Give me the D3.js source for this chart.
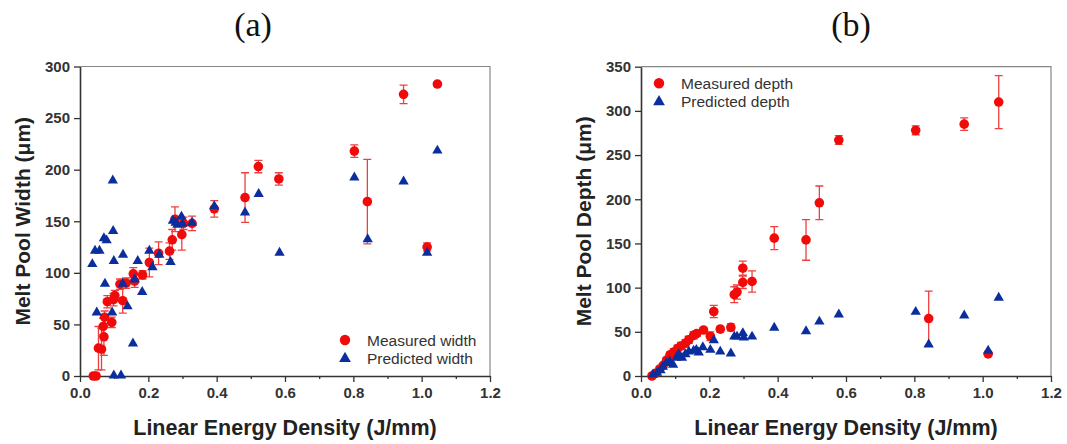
<!DOCTYPE html>
<html><head><meta charset="utf-8">
<script src="https://cdn.jsdelivr.net/npm/d3@7"></script>
<style>body{margin:0;background:#fff}</style>
</head><body>
<svg id="chart" width="1067" height="444"></svg>
<script>
// ---------- Data ----------
const xTicks = [0, 0.2, 0.4, 0.6, 0.8, 1.0, 1.2];
const xMinorTicks = [0.1, 0.3, 0.5, 0.7, 0.9, 1.1];
const widthYTicks = [0, 50, 100, 150, 200, 250, 300];
const depthYTicks = [0, 50, 100, 150, 200, 250, 300, 350];

// (a) measured width: energy density, value, error
const widthMeasX   = [0.039,0.047,0.054,0.063,0.070,0.068,0.072,0.093,0.080,0.098,0.102,0.125,0.117,0.135,0.156,0.160,0.183,0.203,0.230,0.262,0.270,0.278,0.298,0.303,0.328,0.393,0.483,0.522,0.582,0.803,0.841,0.947,1.046,1.016];
const widthMeasY   = [0,0,27,26,38,48,57,52,72,74,78,73,89,90,99,92,98,110,119,121,132,152,137,148,148,162,173,203,191,218,169,273,283,125];
const widthMeasErr = [0,0,21,20,18,8,6,5,6,6,5,12,5,5,6,6,4,14,11,8,10,12,15,6,7,8,24,6,6,6,41,9,2,4];
// (a) predicted width
const widthPredX = [0.036,0.044,0.057,0.049,0.070,0.078,0.073,0.096,0.097,0.099,0.094,0.099,0.120,0.126,0.125,0.139,0.155,0.160,0.169,0.182,0.203,0.212,0.232,0.265,0.272,0.280,0.285,0.297,0.300,0.328,0.393,0.483,0.523,0.584,0.803,0.842,0.947,1.046,1.016];
const widthPredY = [108,121,121,61,133,131,89,189,140,111,61,0,0,117,89,67,31,93,111,81,121,105,117,110,150,148,146,154,147,148,164,158,176,119,192,132,188,218,119];

// (b) measured depth
const depthMeasX   = [0.032,0.042,0.055,0.065,0.075,0.085,0.096,0.107,0.117,0.130,0.140,0.154,0.163,0.183,0.203,0.213,0.232,0.263,0.273,0.281,0.298,0.298,0.325,0.390,0.483,0.522,0.579,0.804,0.842,0.946,1.047,1.016];
const depthMeasY   = [0,3,8,12,18,24,27,31,34,37,41,46,48,52,45,73,53,55,92,95,122,106,107,156,154,196,267,278,65,285,310,25];
const depthMeasErr = [0,0,2,2,3,3,4,4,4,4,4,4,3,3,5,7,3,4,9,8,8,7,12,13,23,19,5,5,31,7,30,2];
// (b) predicted depth
const depthPredX = [0.035,0.047,0.057,0.064,0.074,0.084,0.094,0.104,0.110,0.120,0.130,0.140,0.154,0.162,0.169,0.181,0.203,0.213,0.232,0.263,0.273,0.281,0.298,0.301,0.325,0.390,0.483,0.522,0.579,0.804,0.842,0.946,1.016,1.047];
const depthPredY = [1,3,6,10,14,16,12,20,24,20,24,27,28,29,26,32,29,40,27,25,44,44,48,43,44,54,50,61,69,72,35,68,28,88];

// ---------- Styles ----------
const RED = "#f00a0a", ERR = "#ef4040", BLUE = "#0b2e9e", TXT = "#333";
const svg = d3.select("#chart");

function drawPanel(p) {
  const x = d3.scaleLinear().domain([0, 1.2]).range([p.left, p.right]);
  const y = d3.scaleLinear().domain([0, p.yMax]).range([p.bottom, p.top]);
  const g = svg.append("g");

  // frame (top / right)
  g.append("path")
    .attr("d", `M${p.left},${p.top}H${p.right}V${p.bottom}`)
    .attr("fill", "none").attr("stroke", "#888").attr("stroke-width", 1.2);

  // axes
  const xa = g.append("g").attr("transform", `translate(0,${p.bottom})`)
    .call(d3.axisBottom(x).tickValues(xTicks).tickFormat(d3.format(".1f")).tickSize(6).tickSizeOuter(0).tickPadding(5));
  const xm = g.append("g").attr("transform", `translate(0,${p.bottom})`)
    .call(d3.axisBottom(x).tickValues(xMinorTicks).tickFormat("").tickSize(3).tickSizeOuter(0));
  xm.select(".domain").remove();
  const ya = g.append("g").attr("transform", `translate(${p.left},0)`)
    .call(d3.axisLeft(y).tickValues(p.yTicks).tickFormat(d3.format("d")).tickSize(6).tickSizeOuter(0).tickPadding(4));
  [xa, xm, ya].forEach(a => {
    a.selectAll(".domain").attr("stroke", TXT).attr("stroke-width", 1.6);
    a.selectAll(".tick line").attr("stroke", TXT).attr("stroke-width", 1.3);
    a.selectAll(".tick text").attr("fill", TXT)
      .style("font-family", "Arial, 'Liberation Sans', sans-serif")
      .style("font-weight", "bold").style("font-size", "15px");
  });

  // axis titles
  g.append("text").attr("x", (p.left + p.right) / 2).attr("y", 435)
    .attr("text-anchor", "middle").attr("fill", "#222")
    .style("font-family", "Arial, 'Liberation Sans', sans-serif")
    .style("font-weight", "bold").style("font-size", "21.5px")
    .text("Linear Energy Density (J/mm)");
  g.append("text")
    .attr("transform", `translate(${p.left - 58},${(p.top + p.bottom) / 2}) rotate(-90)`)
    .attr("text-anchor", "middle").attr("dominant-baseline", "central").attr("fill", "#222")
    .style("font-family", "Arial, 'Liberation Sans', sans-serif")
    .style("font-weight", "bold").style("font-size", "21px")
    .text(p.yTitle);

  // panel label
  g.append("text").attr("x", p.titleX).attr("y", 36)
    .attr("text-anchor", "middle").attr("fill", "#111")
    .style("font-family", "'Times New Roman', 'Liberation Serif', serif")
    .style("font-size", "34px").text(p.label);

  // error bars
  const eb = g.append("g").attr("stroke", ERR).attr("stroke-width", 1.3).attr("fill", "none");
  p.measX.forEach((xv, i) => {
    const e = p.measErr[i];
    if (!e) return;
    const cx = x(xv), y1 = y(p.measY[i] + e), y0 = y(p.measY[i] - e);
    eb.append("path").attr("d", `M${cx},${y1}V${y0}M${cx - 4},${y1}H${cx + 4}M${cx - 4},${y0}H${cx + 4}`);
  });

  // measured circles
  g.append("g").selectAll("circle").data(p.measX).join("circle")
    .attr("cx", d => x(d)).attr("cy", (d, i) => y(p.measY[i]))
    .attr("r", 4.8).attr("fill", RED);

  // predicted triangles
  const tri = d3.symbol().type(d3.symbolTriangle).size(46);
  g.append("g").selectAll("path").data(p.predX).join("path")
    .attr("d", tri)
    .attr("transform", (d, i) => `translate(${x(d)},${y(p.predY[i]) - 0.5})`)
    .attr("fill", BLUE);

  // legend
  const lg = g.append("g");
  lg.append("circle").attr("cx", p.legX).attr("cy", p.legY).attr("r", 5.2).attr("fill", RED);
  lg.append("path").attr("d", d3.symbol().type(d3.symbolTriangle).size(60))
    .attr("transform", `translate(${p.legX},${p.legY + 18.5})`).attr("fill", BLUE);
  p.legText.forEach((t, i) => {
    lg.append("text").attr("x", p.legX + 22).attr("y", p.legY + 5.5 + i * 18.5)
      .attr("fill", TXT)
      .style("font-family", "Arial, 'Liberation Sans', sans-serif")
      .style("font-size", "15.5px").text(t);
  });
}

drawPanel({
  left: 80, right: 490, top: 66.5, bottom: 376, yMax: 300, yTicks: widthYTicks,
  measX: widthMeasX, measY: widthMeasY, measErr: widthMeasErr,
  predX: widthPredX, predY: widthPredY,
  yTitle: "Melt Pool Width (\u03bcm)", label: "(a)", titleX: 253,
  legX: 345, legY: 340, legText: ["Measured width", "Predicted width"]
});
drawPanel({
  left: 641, right: 1051, top: 66.7, bottom: 376, yMax: 350, yTicks: depthYTicks,
  measX: depthMeasX, measY: depthMeasY, measErr: depthMeasErr,
  predX: depthPredX, predY: depthPredY,
  yTitle: "Melt Pool Depth (\u03bcm)", label: "(b)", titleX: 851,
  legX: 659, legY: 83.3, legText: ["Measured depth", "Predicted depth"]
});
</script>
</body></html>
